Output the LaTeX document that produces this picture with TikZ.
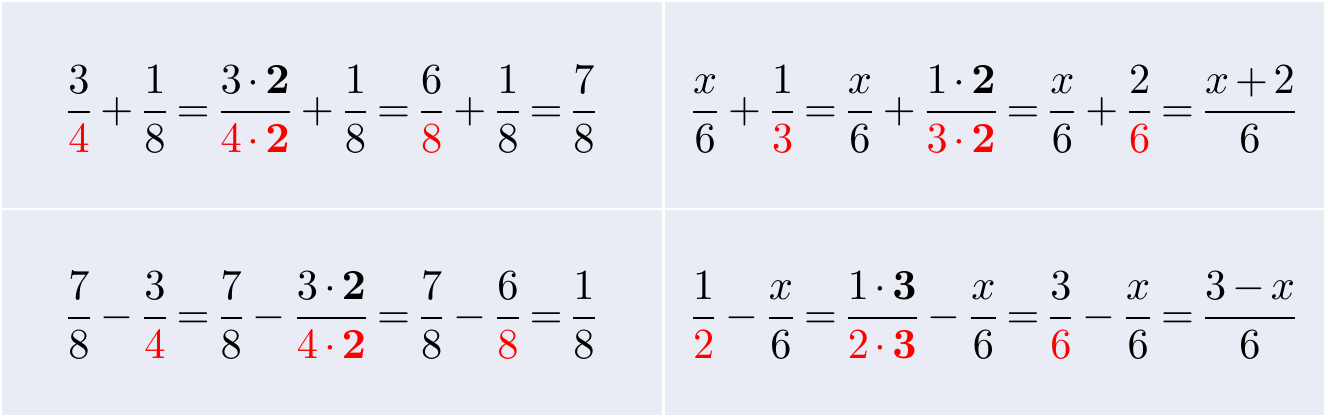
\documentclass[tikz,border=0pt]{standalone}
\usepackage{amsmath}
\usepackage{graphicx}
\usepackage{xcolor}
\definecolor{panelbg}{RGB}{233,235,245}
\definecolor{hl}{RGB}{255,0,0}
\newcommand{\hlc}[1]{{\color{hl}#1}}
\newcommand{\fr}[2]{\genfrac{}{}{0.56bp}{0}{#1}{#2}}
\newcommand{\eqbox}[2]{\scalebox{#1}[4.3]{\fontsize{10bp}{12bp}\selectfont\medmuskip=2.5mu\thickmuskip=2.5mu$#2$}}
\begin{document}
\begin{tikzpicture}[x=1bp,y=-1bp,
  panel/.style={fill=panelbg,draw=none},
  eq/.style={inner sep=0pt,outer sep=0pt,anchor=base}]
\useasboundingbox[fill=white] (0,0) rectangle (1328,419);
\fill[panel] (2,2) rectangle (662,208);
\fill[panel] (665,2) rectangle (1324,208);
\fill[panel] (2,210) rectangle (662,415);
\fill[panel] (665,210) rectangle (1324,415);
\node[eq] (tl) at (331.5,122.75) {\eqbox{4.26}{\fr{3}{\hlc{4}}+\fr{1}{8}=\fr{3\cdot\mathbf{2}}{\hlc{4\cdot\mathbf{2}}}+\fr{1}{8}=\fr{6}{\hlc{8}}+\fr{1}{8}=\fr{7}{8}}};
\node[eq] (tr) at (994,122.75) {\eqbox{4.24}{\fr{x}{6}+\fr{1}{\hlc{3}}=\fr{x}{6}+\fr{1\cdot\mathbf{2}}{\hlc{3\cdot\mathbf{2}}}=\fr{x}{6}+\fr{2}{\hlc{6}}=\fr{x+2}{6}}};
\node[eq] (bl) at (331.5,328.75) {\eqbox{4.26}{\fr{7}{8}-\fr{3}{\hlc{4}}=\fr{7}{8}-\fr{3\cdot\mathbf{2}}{\hlc{4\cdot\mathbf{2}}}=\fr{7}{8}-\fr{6}{\hlc{8}}=\fr{1}{8}}};
\node[eq] (br) at (994,328.75) {\eqbox{4.24}{\fr{1}{\hlc{2}}-\fr{x}{6}=\fr{1\cdot\mathbf{3}}{\hlc{2\cdot\mathbf{3}}}-\fr{x}{6}=\fr{3}{\hlc{6}}-\fr{x}{6}=\fr{3-x}{6}}};
\end{tikzpicture}
\end{document}
